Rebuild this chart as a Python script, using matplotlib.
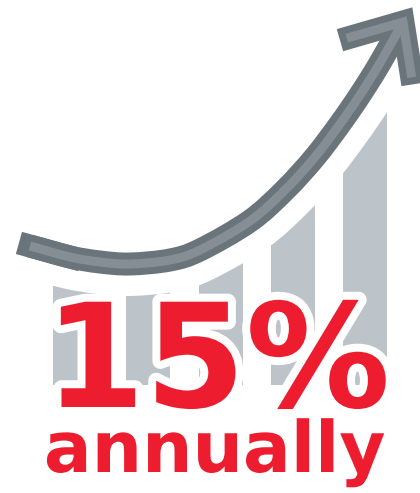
import numpy as np
import matplotlib
matplotlib.use('Agg')
from matplotlib import pyplot as plt
from matplotlib.path import Path
from matplotlib.patches import PathPatch
import matplotlib.patheffects as pe

# canvas in pixels, y measured upward from the bottom edge
W, H = 420, 493

# growth bars (left edge, width, height above baseline)
bar_left = [53, 126, 199, 271, 343]
bar_width = 44
bar_heights = [115, 115, 130, 185, 295]
bar_base = 108

# arrow shaft through these points, and the arrow head
arrow_x = [30, 70, 100, 130, 170, 200, 250, 285, 315, 340, 360, 380, 403]
arrow_y = [247, 236, 231, 229, 233, 243, 272, 303, 336, 369, 398, 430, 471]
head_x = [351, 403, 411]
head_y = [456, 471, 420]

big_text = '15%'
small_text = 'annually'

red = '#ED1C2E'
bar_col = '#BCC3C9'
dark = '#6A757B'
light = '#858E94'

px = 0.72  # pixel -> point at dpi 100


def smooth_path(xs, ys):
    # catmull-rom through the points, handed to matplotlib as cubic beziers
    p = np.column_stack([xs, ys]).astype(float)
    p = np.vstack([2 * p[0] - p[1], p, 2 * p[-1] - p[-2]])
    verts = [p[1]]
    codes = [Path.MOVETO]
    for i in range(1, len(p) - 2):
        c1 = p[i] + (p[i + 1] - p[i - 1]) / 6
        c2 = p[i + 1] - (p[i + 2] - p[i]) / 6
        verts += [c1, c2, p[i + 1]]
        codes += [Path.CURVE4] * 3
    return Path(verts, codes)


fig = plt.figure(figsize=(W / 100, H / 100), dpi=100)
ax = fig.add_axes([0, 0, 1, 1])
ax.set_xlim(0, W)
ax.set_ylim(0, H)
ax.axis('off')

ax.bar(bar_left, bar_heights, width=bar_width, bottom=bar_base, align='edge',
       color=bar_col, zorder=1)

shaft = smooth_path(arrow_x, arrow_y)

# white gap between the bars and the arrow
ax.add_patch(PathPatch(shaft, fill=False, edgecolor='white', lw=64 * px,
                       capstyle='butt', zorder=2))

# arrow: dark rim first, lighter core on top
ax.add_patch(PathPatch(shaft, fill=False, edgecolor=dark, lw=23 * px,
                       capstyle='butt', zorder=3))
ax.plot(arrow_x[:2], arrow_y[:2], color=dark, lw=23 * px,
        solid_capstyle='projecting', zorder=3)
ax.plot(head_x, head_y, color=dark, lw=23 * px, solid_capstyle='projecting',
        solid_joinstyle='miter', zorder=3)
ax.add_patch(PathPatch(shaft, fill=False, edgecolor=light, lw=9 * px,
                       capstyle='butt', zorder=4))
ax.plot(head_x, head_y, color=light, lw=9 * px, solid_capstyle='projecting',
        solid_joinstyle='miter', zorder=4)

halo = [pe.withStroke(linewidth=16 * px, foreground='white')]
ax.text(217.5, 86, big_text, fontsize=104, color=red, family='DejaVu Sans',
        fontweight='bold', ha='center', va='baseline', path_effects=halo,
        zorder=5)
ax.text(215, 21, small_text, fontsize=51, color=red, family='DejaVu Sans',
        fontweight='bold', ha='center', va='baseline', path_effects=halo,
        zorder=5)

plt.savefig('out.png', dpi=100)
